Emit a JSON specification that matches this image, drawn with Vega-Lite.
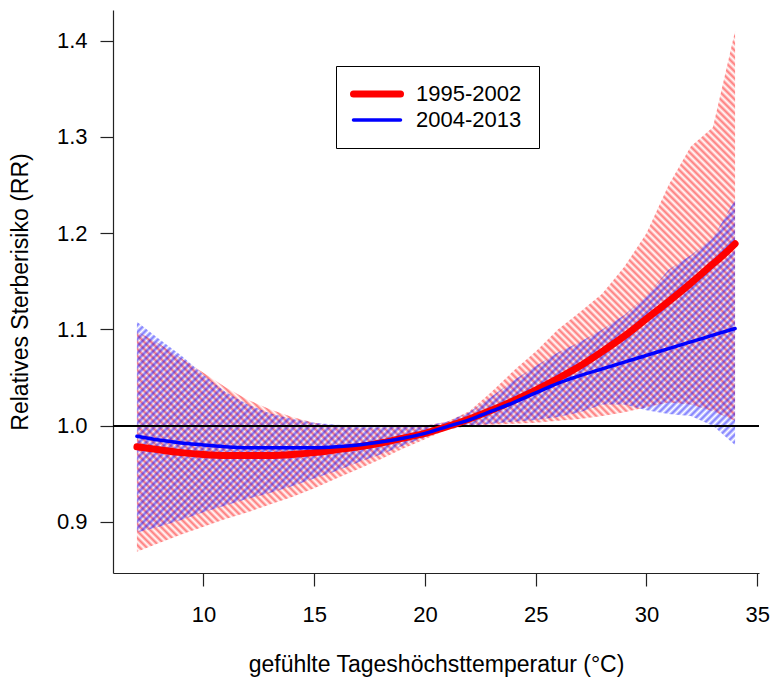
{
  "$schema": "https://vega.github.io/schema/vega-lite/v6.json",
  "width": 646,
  "height": 563,
  "autosize": "none",
  "padding": {"left": 113, "top": 10, "right": 12, "bottom": 109},
  "background": "white",
  "config": {
    "view": {"stroke": null},
    "font": "Liberation Sans",
    "axis": {
      "grid": false,
      "domainColor": "#222",
      "domainWidth": 1.2,
      "tickColor": "#222",
      "tickWidth": 1.2,
      "tickSize": 13,
      "labelColor": "black",
      "labelFont": "Liberation Sans",
      "labelFontSize": 22,
      "titleFont": "Liberation Sans",
      "titleFontSize": 23,
      "titleFontWeight": "normal",
      "titleColor": "black"
    },
    "legend": {
      "labelFont": "Liberation Sans",
      "labelFontSize": 22,
      "labelColor": "black"
    }
  },
  "data": {
    "values": [
      {"T": 7, "series": "1995-2002", "fit": 0.978, "lo": 0.869, "hi": 1.098},
      {"T": 8, "series": "1995-2002", "fit": 0.975, "lo": 0.878, "hi": 1.085},
      {"T": 9, "series": "1995-2002", "fit": 0.972, "lo": 0.887, "hi": 1.070},
      {"T": 10, "series": "1995-2002", "fit": 0.970, "lo": 0.895, "hi": 1.055},
      {"T": 11, "series": "1995-2002", "fit": 0.969, "lo": 0.903, "hi": 1.040},
      {"T": 12, "series": "1995-2002", "fit": 0.969, "lo": 0.910, "hi": 1.027},
      {"T": 13, "series": "1995-2002", "fit": 0.969, "lo": 0.918, "hi": 1.017},
      {"T": 14, "series": "1995-2002", "fit": 0.970, "lo": 0.926, "hi": 1.009},
      {"T": 15, "series": "1995-2002", "fit": 0.972, "lo": 0.935, "hi": 1.003},
      {"T": 16, "series": "1995-2002", "fit": 0.975, "lo": 0.945, "hi": 0.999},
      {"T": 17, "series": "1995-2002", "fit": 0.978, "lo": 0.955, "hi": 0.998},
      {"T": 18, "series": "1995-2002", "fit": 0.982, "lo": 0.965, "hi": 0.998},
      {"T": 19, "series": "1995-2002", "fit": 0.987, "lo": 0.976, "hi": 0.999},
      {"T": 20, "series": "1995-2002", "fit": 0.992, "lo": 0.986, "hi": 1.000},
      {"T": 21, "series": "1995-2002", "fit": 0.999, "lo": 0.996, "hi": 1.004},
      {"T": 22, "series": "1995-2002", "fit": 1.007, "lo": 1.000, "hi": 1.015},
      {"T": 23, "series": "1995-2002", "fit": 1.016, "lo": 1.001, "hi": 1.035},
      {"T": 24, "series": "1995-2002", "fit": 1.026, "lo": 1.002, "hi": 1.057},
      {"T": 25, "series": "1995-2002", "fit": 1.037, "lo": 1.003, "hi": 1.077},
      {"T": 26, "series": "1995-2002", "fit": 1.049, "lo": 1.005, "hi": 1.100},
      {"T": 27, "series": "1995-2002", "fit": 1.062, "lo": 1.007, "hi": 1.118},
      {"T": 28, "series": "1995-2002", "fit": 1.077, "lo": 1.010, "hi": 1.137},
      {"T": 29, "series": "1995-2002", "fit": 1.093, "lo": 1.014, "hi": 1.165},
      {"T": 30, "series": "1995-2002", "fit": 1.111, "lo": 1.019, "hi": 1.200},
      {"T": 31, "series": "1995-2002", "fit": 1.129, "lo": 1.024, "hi": 1.250},
      {"T": 32, "series": "1995-2002", "fit": 1.148, "lo": 1.022, "hi": 1.290},
      {"T": 33, "series": "1995-2002", "fit": 1.168, "lo": 1.015, "hi": 1.310},
      {"T": 33.5, "series": "1995-2002", "fit": 1.178, "lo": 1.010, "hi": 1.360},
      {"T": 34, "series": "1995-2002", "fit": 1.189, "lo": 1.005, "hi": 1.410},
      {"T": 7, "series": "2004-2013", "fit": 0.989, "lo": 0.889, "hi": 1.108},
      {"T": 8, "series": "2004-2013", "fit": 0.985, "lo": 0.895, "hi": 1.090},
      {"T": 9, "series": "2004-2013", "fit": 0.982, "lo": 0.902, "hi": 1.073},
      {"T": 10, "series": "2004-2013", "fit": 0.980, "lo": 0.910, "hi": 1.053},
      {"T": 11, "series": "2004-2013", "fit": 0.978, "lo": 0.917, "hi": 1.035},
      {"T": 12, "series": "2004-2013", "fit": 0.977, "lo": 0.924, "hi": 1.022},
      {"T": 13, "series": "2004-2013", "fit": 0.977, "lo": 0.930, "hi": 1.013},
      {"T": 14, "series": "2004-2013", "fit": 0.977, "lo": 0.937, "hi": 1.007},
      {"T": 15, "series": "2004-2013", "fit": 0.977, "lo": 0.945, "hi": 1.003},
      {"T": 16, "series": "2004-2013", "fit": 0.978, "lo": 0.953, "hi": 1.001},
      {"T": 17, "series": "2004-2013", "fit": 0.980, "lo": 0.962, "hi": 1.000},
      {"T": 18, "series": "2004-2013", "fit": 0.983, "lo": 0.970, "hi": 0.999},
      {"T": 19, "series": "2004-2013", "fit": 0.987, "lo": 0.979, "hi": 0.999},
      {"T": 20, "series": "2004-2013", "fit": 0.992, "lo": 0.988, "hi": 1.000},
      {"T": 21, "series": "2004-2013", "fit": 0.999, "lo": 0.996, "hi": 1.004},
      {"T": 22, "series": "2004-2013", "fit": 1.006, "lo": 1.000, "hi": 1.014},
      {"T": 23, "series": "2004-2013", "fit": 1.015, "lo": 1.002, "hi": 1.030},
      {"T": 24, "series": "2004-2013", "fit": 1.024, "lo": 1.004, "hi": 1.047},
      {"T": 25, "series": "2004-2013", "fit": 1.034, "lo": 1.006, "hi": 1.062},
      {"T": 26, "series": "2004-2013", "fit": 1.044, "lo": 1.009, "hi": 1.076},
      {"T": 27, "series": "2004-2013", "fit": 1.052, "lo": 1.014, "hi": 1.087},
      {"T": 28, "series": "2004-2013", "fit": 1.059, "lo": 1.022, "hi": 1.100},
      {"T": 29, "series": "2004-2013", "fit": 1.066, "lo": 1.022, "hi": 1.115},
      {"T": 30, "series": "2004-2013", "fit": 1.073, "lo": 1.016, "hi": 1.135},
      {"T": 31, "series": "2004-2013", "fit": 1.080, "lo": 1.012, "hi": 1.162},
      {"T": 32, "series": "2004-2013", "fit": 1.087, "lo": 1.010, "hi": 1.177},
      {"T": 33, "series": "2004-2013", "fit": 1.094, "lo": 1.000, "hi": 1.195},
      {"T": 34, "series": "2004-2013", "fit": 1.101, "lo": 0.980, "hi": 1.235}
    ]
  },
  "layer": [
    {
      "transform": [{"filter": "datum.series === '1995-2002'"}],
      "mark": {
        "type": "area",
        "interpolate": "linear",
        "fill": {
          "gradient": "linear", "x1": 0, "y1": 1, "x2": 1.10975, "y2": 0.03404,
          "stops": [
            {"offset":0,"color":"#f008"},{"offset":0.003,"color":"#f000"},{"offset":0.006,"color":"#f008"},{"offset":0.009,"color":"#f000"},{"offset":0.012,"color":"#f008"},{"offset":0.015,"color":"#f000"},{"offset":0.018,"color":"#f008"},{"offset":0.021,"color":"#f000"},{"offset":0.024,"color":"#f008"},{"offset":0.027,"color":"#f000"},
            {"offset":0.03,"color":"#f008"},{"offset":0.033,"color":"#f000"},{"offset":0.036,"color":"#f008"},{"offset":0.039,"color":"#f000"},{"offset":0.042,"color":"#f008"},{"offset":0.045,"color":"#f000"},{"offset":0.048,"color":"#f008"},{"offset":0.051,"color":"#f000"},{"offset":0.054,"color":"#f008"},{"offset":0.057,"color":"#f000"},
            {"offset":0.06,"color":"#f008"},{"offset":0.063,"color":"#f000"},{"offset":0.066,"color":"#f008"},{"offset":0.069,"color":"#f000"},{"offset":0.072,"color":"#f008"},{"offset":0.075,"color":"#f000"},{"offset":0.078,"color":"#f008"},{"offset":0.081,"color":"#f000"},{"offset":0.084,"color":"#f008"},{"offset":0.087,"color":"#f000"},
            {"offset":0.09,"color":"#f008"},{"offset":0.093,"color":"#f000"},{"offset":0.096,"color":"#f008"},{"offset":0.099,"color":"#f000"},{"offset":0.102,"color":"#f008"},{"offset":0.105,"color":"#f000"},{"offset":0.108,"color":"#f008"},{"offset":0.111,"color":"#f000"},{"offset":0.114,"color":"#f008"},{"offset":0.117,"color":"#f000"},
            {"offset":0.12,"color":"#f008"},{"offset":0.123,"color":"#f000"},{"offset":0.126,"color":"#f008"},{"offset":0.129,"color":"#f000"},{"offset":0.132,"color":"#f008"},{"offset":0.135,"color":"#f000"},{"offset":0.138,"color":"#f008"},{"offset":0.141,"color":"#f000"},{"offset":0.144,"color":"#f008"},{"offset":0.147,"color":"#f000"},
            {"offset":0.15,"color":"#f008"},{"offset":0.153,"color":"#f000"},{"offset":0.156,"color":"#f008"},{"offset":0.159,"color":"#f000"},{"offset":0.162,"color":"#f008"},{"offset":0.165,"color":"#f000"},{"offset":0.168,"color":"#f008"},{"offset":0.171,"color":"#f000"},{"offset":0.174,"color":"#f008"},{"offset":0.177,"color":"#f000"},
            {"offset":0.18,"color":"#f008"},{"offset":0.183,"color":"#f000"},{"offset":0.186,"color":"#f008"},{"offset":0.189,"color":"#f000"},{"offset":0.192,"color":"#f008"},{"offset":0.195,"color":"#f000"},{"offset":0.198,"color":"#f008"},{"offset":0.201,"color":"#f000"},{"offset":0.204,"color":"#f008"},{"offset":0.207,"color":"#f000"},
            {"offset":0.21,"color":"#f008"},{"offset":0.213,"color":"#f000"},{"offset":0.216,"color":"#f008"},{"offset":0.219,"color":"#f000"},{"offset":0.222,"color":"#f008"},{"offset":0.225,"color":"#f000"},{"offset":0.228,"color":"#f008"},{"offset":0.231,"color":"#f000"},{"offset":0.234,"color":"#f008"},{"offset":0.237,"color":"#f000"},
            {"offset":0.24,"color":"#f008"},{"offset":0.243,"color":"#f000"},{"offset":0.246,"color":"#f008"},{"offset":0.249,"color":"#f000"},{"offset":0.252,"color":"#f008"},{"offset":0.255,"color":"#f000"},{"offset":0.258,"color":"#f008"},{"offset":0.261,"color":"#f000"},{"offset":0.264,"color":"#f008"},{"offset":0.267,"color":"#f000"},
            {"offset":0.27,"color":"#f008"},{"offset":0.273,"color":"#f000"},{"offset":0.276,"color":"#f008"},{"offset":0.279,"color":"#f000"},{"offset":0.282,"color":"#f008"},{"offset":0.285,"color":"#f000"},{"offset":0.288,"color":"#f008"},{"offset":0.291,"color":"#f000"},{"offset":0.294,"color":"#f008"},{"offset":0.297,"color":"#f000"},
            {"offset":0.3,"color":"#f008"},{"offset":0.303,"color":"#f000"},{"offset":0.306,"color":"#f008"},{"offset":0.309,"color":"#f000"},{"offset":0.312,"color":"#f008"},{"offset":0.315,"color":"#f000"},{"offset":0.318,"color":"#f008"},{"offset":0.321,"color":"#f000"},{"offset":0.324,"color":"#f008"},{"offset":0.327,"color":"#f000"},
            {"offset":0.33,"color":"#f008"},{"offset":0.333,"color":"#f000"},{"offset":0.336,"color":"#f008"},{"offset":0.339,"color":"#f000"},{"offset":0.342,"color":"#f008"},{"offset":0.345,"color":"#f000"},{"offset":0.348,"color":"#f008"},{"offset":0.351,"color":"#f000"},{"offset":0.354,"color":"#f008"},{"offset":0.357,"color":"#f000"},
            {"offset":0.36,"color":"#f008"},{"offset":0.363,"color":"#f000"},{"offset":0.366,"color":"#f008"},{"offset":0.369,"color":"#f000"},{"offset":0.372,"color":"#f008"},{"offset":0.375,"color":"#f000"},{"offset":0.378,"color":"#f008"},{"offset":0.381,"color":"#f000"},{"offset":0.384,"color":"#f008"},{"offset":0.387,"color":"#f000"},
            {"offset":0.39,"color":"#f008"},{"offset":0.393,"color":"#f000"},{"offset":0.396,"color":"#f008"},{"offset":0.399,"color":"#f000"},{"offset":0.402,"color":"#f008"},{"offset":0.405,"color":"#f000"},{"offset":0.408,"color":"#f008"},{"offset":0.411,"color":"#f000"},{"offset":0.414,"color":"#f008"},{"offset":0.417,"color":"#f000"},
            {"offset":0.42,"color":"#f008"},{"offset":0.423,"color":"#f000"},{"offset":0.426,"color":"#f008"},{"offset":0.429,"color":"#f000"},{"offset":0.432,"color":"#f008"},{"offset":0.435,"color":"#f000"},{"offset":0.438,"color":"#f008"},{"offset":0.441,"color":"#f000"},{"offset":0.444,"color":"#f008"},{"offset":0.447,"color":"#f000"},
            {"offset":0.45,"color":"#f008"},{"offset":0.453,"color":"#f000"},{"offset":0.456,"color":"#f008"},{"offset":0.459,"color":"#f000"},{"offset":0.462,"color":"#f008"},{"offset":0.465,"color":"#f000"},{"offset":0.468,"color":"#f008"},{"offset":0.471,"color":"#f000"},{"offset":0.474,"color":"#f008"},{"offset":0.477,"color":"#f000"},
            {"offset":0.48,"color":"#f008"},{"offset":0.483,"color":"#f000"},{"offset":0.486,"color":"#f008"},{"offset":0.489,"color":"#f000"},{"offset":0.492,"color":"#f008"},{"offset":0.495,"color":"#f000"},{"offset":0.498,"color":"#f008"},{"offset":0.501,"color":"#f000"},{"offset":0.504,"color":"#f008"},{"offset":0.507,"color":"#f000"},
            {"offset":0.51,"color":"#f008"},{"offset":0.513,"color":"#f000"},{"offset":0.516,"color":"#f008"},{"offset":0.519,"color":"#f000"},{"offset":0.522,"color":"#f008"},{"offset":0.525,"color":"#f000"},{"offset":0.528,"color":"#f008"},{"offset":0.531,"color":"#f000"},{"offset":0.534,"color":"#f008"},{"offset":0.537,"color":"#f000"},
            {"offset":0.54,"color":"#f008"},{"offset":0.543,"color":"#f000"},{"offset":0.546,"color":"#f008"},{"offset":0.549,"color":"#f000"},{"offset":0.552,"color":"#f008"},{"offset":0.555,"color":"#f000"},{"offset":0.558,"color":"#f008"},{"offset":0.561,"color":"#f000"},{"offset":0.564,"color":"#f008"},{"offset":0.567,"color":"#f000"},
            {"offset":0.57,"color":"#f008"},{"offset":0.573,"color":"#f000"},{"offset":0.576,"color":"#f008"},{"offset":0.579,"color":"#f000"},{"offset":0.582,"color":"#f008"},{"offset":0.585,"color":"#f000"},{"offset":0.588,"color":"#f008"},{"offset":0.591,"color":"#f000"},{"offset":0.594,"color":"#f008"},{"offset":0.597,"color":"#f000"},
            {"offset":0.6,"color":"#f008"},{"offset":0.603,"color":"#f000"},{"offset":0.606,"color":"#f008"},{"offset":0.609,"color":"#f000"},{"offset":0.612,"color":"#f008"},{"offset":0.615,"color":"#f000"},{"offset":0.618,"color":"#f008"},{"offset":0.621,"color":"#f000"},{"offset":0.624,"color":"#f008"},{"offset":0.627,"color":"#f000"},
            {"offset":0.63,"color":"#f008"},{"offset":0.633,"color":"#f000"},{"offset":0.636,"color":"#f008"},{"offset":0.639,"color":"#f000"},{"offset":0.642,"color":"#f008"},{"offset":0.645,"color":"#f000"},{"offset":0.648,"color":"#f008"},{"offset":0.651,"color":"#f000"},{"offset":0.654,"color":"#f008"},{"offset":0.657,"color":"#f000"},
            {"offset":0.66,"color":"#f008"},{"offset":0.663,"color":"#f000"},{"offset":0.666,"color":"#f008"},{"offset":0.669,"color":"#f000"},{"offset":0.672,"color":"#f008"},{"offset":0.675,"color":"#f000"},{"offset":0.678,"color":"#f008"},{"offset":0.681,"color":"#f000"},{"offset":0.684,"color":"#f008"},{"offset":0.687,"color":"#f000"},
            {"offset":0.69,"color":"#f008"},{"offset":0.693,"color":"#f000"},{"offset":0.696,"color":"#f008"},{"offset":0.699,"color":"#f000"},{"offset":0.702,"color":"#f008"},{"offset":0.705,"color":"#f000"},{"offset":0.708,"color":"#f008"},{"offset":0.711,"color":"#f000"},{"offset":0.714,"color":"#f008"},{"offset":0.717,"color":"#f000"},
            {"offset":0.72,"color":"#f008"},{"offset":0.723,"color":"#f000"},{"offset":0.726,"color":"#f008"},{"offset":0.729,"color":"#f000"},{"offset":0.732,"color":"#f008"},{"offset":0.735,"color":"#f000"},{"offset":0.738,"color":"#f008"},{"offset":0.741,"color":"#f000"},{"offset":0.744,"color":"#f008"},{"offset":0.747,"color":"#f000"},
            {"offset":0.75,"color":"#f008"},{"offset":0.753,"color":"#f000"},{"offset":0.756,"color":"#f008"},{"offset":0.759,"color":"#f000"},{"offset":0.762,"color":"#f008"},{"offset":0.765,"color":"#f000"},{"offset":0.768,"color":"#f008"},{"offset":0.771,"color":"#f000"},{"offset":0.774,"color":"#f008"},{"offset":0.777,"color":"#f000"},
            {"offset":0.78,"color":"#f008"},{"offset":0.783,"color":"#f000"},{"offset":0.786,"color":"#f008"},{"offset":0.789,"color":"#f000"},{"offset":0.792,"color":"#f008"},{"offset":0.795,"color":"#f000"},{"offset":0.798,"color":"#f008"},{"offset":0.801,"color":"#f000"},{"offset":0.804,"color":"#f008"},{"offset":0.807,"color":"#f000"},
            {"offset":0.81,"color":"#f008"},{"offset":0.813,"color":"#f000"},{"offset":0.816,"color":"#f008"},{"offset":0.819,"color":"#f000"},{"offset":0.822,"color":"#f008"},{"offset":0.825,"color":"#f000"},{"offset":0.828,"color":"#f008"},{"offset":0.831,"color":"#f000"},{"offset":0.834,"color":"#f008"},{"offset":0.837,"color":"#f000"},
            {"offset":0.84,"color":"#f008"},{"offset":0.843,"color":"#f000"},{"offset":0.846,"color":"#f008"},{"offset":0.849,"color":"#f000"},{"offset":0.852,"color":"#f008"},{"offset":0.855,"color":"#f000"},{"offset":0.858,"color":"#f008"},{"offset":0.861,"color":"#f000"},{"offset":0.864,"color":"#f008"},{"offset":0.867,"color":"#f000"},
            {"offset":0.87,"color":"#f008"},{"offset":0.873,"color":"#f000"},{"offset":0.876,"color":"#f008"},{"offset":0.879,"color":"#f000"},{"offset":0.882,"color":"#f008"},{"offset":0.885,"color":"#f000"},{"offset":0.888,"color":"#f008"},{"offset":0.891,"color":"#f000"},{"offset":0.894,"color":"#f008"},{"offset":0.897,"color":"#f000"},
            {"offset":0.9,"color":"#f008"},{"offset":0.903,"color":"#f000"},{"offset":0.906,"color":"#f008"},{"offset":0.909,"color":"#f000"},{"offset":0.912,"color":"#f008"},{"offset":0.915,"color":"#f000"},{"offset":0.918,"color":"#f008"},{"offset":0.921,"color":"#f000"},{"offset":0.924,"color":"#f008"},{"offset":0.927,"color":"#f000"},
            {"offset":0.93,"color":"#f008"},{"offset":0.933,"color":"#f000"},{"offset":0.936,"color":"#f008"},{"offset":0.939,"color":"#f000"},{"offset":0.942,"color":"#f008"},{"offset":0.945,"color":"#f000"},{"offset":0.948,"color":"#f008"},{"offset":0.951,"color":"#f000"},{"offset":0.954,"color":"#f008"},{"offset":0.957,"color":"#f000"},
            {"offset":0.96,"color":"#f008"}
          ]
        }
      },
      "encoding": {
        "x": {"field": "T", "type": "quantitative"},
        "y": {"field": "lo", "type": "quantitative"},
        "y2": {"field": "hi"}
      }
    },
    {
      "transform": [{"filter": "datum.series === '2004-2013'"}],
      "mark": {
        "type": "area",
        "interpolate": "linear",
        "fill": {
          "gradient": "linear", "x1": 0, "y1": 0, "x2": 1.48904, "y2": 0.82894,
          "stops": [
            {"offset":0,"color":"#00f8"},{"offset":0.003,"color":"#00f0"},{"offset":0.006,"color":"#00f8"},{"offset":0.009,"color":"#00f0"},{"offset":0.012,"color":"#00f8"},{"offset":0.015,"color":"#00f0"},{"offset":0.018,"color":"#00f8"},{"offset":0.021,"color":"#00f0"},{"offset":0.024,"color":"#00f8"},{"offset":0.027,"color":"#00f0"},
            {"offset":0.03,"color":"#00f8"},{"offset":0.033,"color":"#00f0"},{"offset":0.036,"color":"#00f8"},{"offset":0.039,"color":"#00f0"},{"offset":0.042,"color":"#00f8"},{"offset":0.045,"color":"#00f0"},{"offset":0.048,"color":"#00f8"},{"offset":0.051,"color":"#00f0"},{"offset":0.054,"color":"#00f8"},{"offset":0.057,"color":"#00f0"},
            {"offset":0.06,"color":"#00f8"},{"offset":0.063,"color":"#00f0"},{"offset":0.066,"color":"#00f8"},{"offset":0.069,"color":"#00f0"},{"offset":0.072,"color":"#00f8"},{"offset":0.075,"color":"#00f0"},{"offset":0.078,"color":"#00f8"},{"offset":0.081,"color":"#00f0"},{"offset":0.084,"color":"#00f8"},{"offset":0.087,"color":"#00f0"},
            {"offset":0.09,"color":"#00f8"},{"offset":0.093,"color":"#00f0"},{"offset":0.096,"color":"#00f8"},{"offset":0.099,"color":"#00f0"},{"offset":0.102,"color":"#00f8"},{"offset":0.105,"color":"#00f0"},{"offset":0.108,"color":"#00f8"},{"offset":0.111,"color":"#00f0"},{"offset":0.114,"color":"#00f8"},{"offset":0.117,"color":"#00f0"},
            {"offset":0.12,"color":"#00f8"},{"offset":0.123,"color":"#00f0"},{"offset":0.126,"color":"#00f8"},{"offset":0.129,"color":"#00f0"},{"offset":0.132,"color":"#00f8"},{"offset":0.135,"color":"#00f0"},{"offset":0.138,"color":"#00f8"},{"offset":0.141,"color":"#00f0"},{"offset":0.144,"color":"#00f8"},{"offset":0.147,"color":"#00f0"},
            {"offset":0.15,"color":"#00f8"},{"offset":0.153,"color":"#00f0"},{"offset":0.156,"color":"#00f8"},{"offset":0.159,"color":"#00f0"},{"offset":0.162,"color":"#00f8"},{"offset":0.165,"color":"#00f0"},{"offset":0.168,"color":"#00f8"},{"offset":0.171,"color":"#00f0"},{"offset":0.174,"color":"#00f8"},{"offset":0.177,"color":"#00f0"},
            {"offset":0.18,"color":"#00f8"},{"offset":0.183,"color":"#00f0"},{"offset":0.186,"color":"#00f8"},{"offset":0.189,"color":"#00f0"},{"offset":0.192,"color":"#00f8"},{"offset":0.195,"color":"#00f0"},{"offset":0.198,"color":"#00f8"},{"offset":0.201,"color":"#00f0"},{"offset":0.204,"color":"#00f8"},{"offset":0.207,"color":"#00f0"},
            {"offset":0.21,"color":"#00f8"},{"offset":0.213,"color":"#00f0"},{"offset":0.216,"color":"#00f8"},{"offset":0.219,"color":"#00f0"},{"offset":0.222,"color":"#00f8"},{"offset":0.225,"color":"#00f0"},{"offset":0.228,"color":"#00f8"},{"offset":0.231,"color":"#00f0"},{"offset":0.234,"color":"#00f8"},{"offset":0.237,"color":"#00f0"},
            {"offset":0.24,"color":"#00f8"},{"offset":0.243,"color":"#00f0"},{"offset":0.246,"color":"#00f8"},{"offset":0.249,"color":"#00f0"},{"offset":0.252,"color":"#00f8"},{"offset":0.255,"color":"#00f0"},{"offset":0.258,"color":"#00f8"},{"offset":0.261,"color":"#00f0"},{"offset":0.264,"color":"#00f8"},{"offset":0.267,"color":"#00f0"},
            {"offset":0.27,"color":"#00f8"},{"offset":0.273,"color":"#00f0"},{"offset":0.276,"color":"#00f8"},{"offset":0.279,"color":"#00f0"},{"offset":0.282,"color":"#00f8"},{"offset":0.285,"color":"#00f0"},{"offset":0.288,"color":"#00f8"},{"offset":0.291,"color":"#00f0"},{"offset":0.294,"color":"#00f8"},{"offset":0.297,"color":"#00f0"},
            {"offset":0.3,"color":"#00f8"},{"offset":0.303,"color":"#00f0"},{"offset":0.306,"color":"#00f8"},{"offset":0.309,"color":"#00f0"},{"offset":0.312,"color":"#00f8"},{"offset":0.315,"color":"#00f0"},{"offset":0.318,"color":"#00f8"},{"offset":0.321,"color":"#00f0"},{"offset":0.324,"color":"#00f8"},{"offset":0.327,"color":"#00f0"},
            {"offset":0.33,"color":"#00f8"},{"offset":0.333,"color":"#00f0"},{"offset":0.336,"color":"#00f8"},{"offset":0.339,"color":"#00f0"},{"offset":0.342,"color":"#00f8"},{"offset":0.345,"color":"#00f0"},{"offset":0.348,"color":"#00f8"},{"offset":0.351,"color":"#00f0"},{"offset":0.354,"color":"#00f8"},{"offset":0.357,"color":"#00f0"},
            {"offset":0.36,"color":"#00f8"},{"offset":0.363,"color":"#00f0"},{"offset":0.366,"color":"#00f8"},{"offset":0.369,"color":"#00f0"},{"offset":0.372,"color":"#00f8"},{"offset":0.375,"color":"#00f0"},{"offset":0.378,"color":"#00f8"},{"offset":0.381,"color":"#00f0"},{"offset":0.384,"color":"#00f8"},{"offset":0.387,"color":"#00f0"},
            {"offset":0.39,"color":"#00f8"},{"offset":0.393,"color":"#00f0"},{"offset":0.396,"color":"#00f8"},{"offset":0.399,"color":"#00f0"},{"offset":0.402,"color":"#00f8"},{"offset":0.405,"color":"#00f0"},{"offset":0.408,"color":"#00f8"},{"offset":0.411,"color":"#00f0"},{"offset":0.414,"color":"#00f8"},{"offset":0.417,"color":"#00f0"},
            {"offset":0.42,"color":"#00f8"},{"offset":0.423,"color":"#00f0"},{"offset":0.426,"color":"#00f8"},{"offset":0.429,"color":"#00f0"},{"offset":0.432,"color":"#00f8"},{"offset":0.435,"color":"#00f0"},{"offset":0.438,"color":"#00f8"},{"offset":0.441,"color":"#00f0"},{"offset":0.444,"color":"#00f8"},{"offset":0.447,"color":"#00f0"},
            {"offset":0.45,"color":"#00f8"},{"offset":0.453,"color":"#00f0"},{"offset":0.456,"color":"#00f8"},{"offset":0.459,"color":"#00f0"},{"offset":0.462,"color":"#00f8"},{"offset":0.465,"color":"#00f0"},{"offset":0.468,"color":"#00f8"},{"offset":0.471,"color":"#00f0"},{"offset":0.474,"color":"#00f8"},{"offset":0.477,"color":"#00f0"},
            {"offset":0.48,"color":"#00f8"},{"offset":0.483,"color":"#00f0"},{"offset":0.486,"color":"#00f8"},{"offset":0.489,"color":"#00f0"},{"offset":0.492,"color":"#00f8"},{"offset":0.495,"color":"#00f0"},{"offset":0.498,"color":"#00f8"},{"offset":0.501,"color":"#00f0"},{"offset":0.504,"color":"#00f8"},{"offset":0.507,"color":"#00f0"},
            {"offset":0.51,"color":"#00f8"},{"offset":0.513,"color":"#00f0"},{"offset":0.516,"color":"#00f8"},{"offset":0.519,"color":"#00f0"},{"offset":0.522,"color":"#00f8"},{"offset":0.525,"color":"#00f0"},{"offset":0.528,"color":"#00f8"},{"offset":0.531,"color":"#00f0"},{"offset":0.534,"color":"#00f8"},{"offset":0.537,"color":"#00f0"},
            {"offset":0.54,"color":"#00f8"},{"offset":0.543,"color":"#00f0"},{"offset":0.546,"color":"#00f8"},{"offset":0.549,"color":"#00f0"},{"offset":0.552,"color":"#00f8"},{"offset":0.555,"color":"#00f0"},{"offset":0.558,"color":"#00f8"},{"offset":0.561,"color":"#00f0"},{"offset":0.564,"color":"#00f8"},{"offset":0.567,"color":"#00f0"},
            {"offset":0.57,"color":"#00f8"},{"offset":0.573,"color":"#00f0"},{"offset":0.576,"color":"#00f8"},{"offset":0.579,"color":"#00f0"},{"offset":0.582,"color":"#00f8"},{"offset":0.585,"color":"#00f0"},{"offset":0.588,"color":"#00f8"},{"offset":0.591,"color":"#00f0"},{"offset":0.594,"color":"#00f8"},{"offset":0.597,"color":"#00f0"},
            {"offset":0.6,"color":"#00f8"},{"offset":0.603,"color":"#00f0"},{"offset":0.606,"color":"#00f8"},{"offset":0.609,"color":"#00f0"},{"offset":0.612,"color":"#00f8"},{"offset":0.615,"color":"#00f0"},{"offset":0.618,"color":"#00f8"},{"offset":0.621,"color":"#00f0"},{"offset":0.624,"color":"#00f8"},{"offset":0.627,"color":"#00f0"},
            {"offset":0.63,"color":"#00f8"},{"offset":0.633,"color":"#00f0"},{"offset":0.636,"color":"#00f8"},{"offset":0.639,"color":"#00f0"},{"offset":0.642,"color":"#00f8"},{"offset":0.645,"color":"#00f0"},{"offset":0.648,"color":"#00f8"},{"offset":0.651,"color":"#00f0"},{"offset":0.654,"color":"#00f8"},{"offset":0.657,"color":"#00f0"},
            {"offset":0.66,"color":"#00f8"},{"offset":0.663,"color":"#00f0"},{"offset":0.666,"color":"#00f8"},{"offset":0.669,"color":"#00f0"},{"offset":0.672,"color":"#00f8"},{"offset":0.675,"color":"#00f0"},{"offset":0.678,"color":"#00f8"},{"offset":0.681,"color":"#00f0"},{"offset":0.684,"color":"#00f8"},{"offset":0.687,"color":"#00f0"},
            {"offset":0.69,"color":"#00f8"},{"offset":0.693,"color":"#00f0"},{"offset":0.696,"color":"#00f8"},{"offset":0.699,"color":"#00f0"},{"offset":0.702,"color":"#00f8"},{"offset":0.705,"color":"#00f0"},{"offset":0.708,"color":"#00f8"},{"offset":0.711,"color":"#00f0"},{"offset":0.714,"color":"#00f8"},{"offset":0.717,"color":"#00f0"},
            {"offset":0.72,"color":"#00f8"},{"offset":0.723,"color":"#00f0"},{"offset":0.726,"color":"#00f8"},{"offset":0.729,"color":"#00f0"},{"offset":0.732,"color":"#00f8"},{"offset":0.735,"color":"#00f0"},{"offset":0.738,"color":"#00f8"},{"offset":0.741,"color":"#00f0"},{"offset":0.744,"color":"#00f8"},{"offset":0.747,"color":"#00f0"},
            {"offset":0.75,"color":"#00f8"},{"offset":0.753,"color":"#00f0"},{"offset":0.756,"color":"#00f8"},{"offset":0.759,"color":"#00f0"},{"offset":0.762,"color":"#00f8"},{"offset":0.765,"color":"#00f0"},{"offset":0.768,"color":"#00f8"},{"offset":0.771,"color":"#00f0"},{"offset":0.774,"color":"#00f8"},{"offset":0.777,"color":"#00f0"},
            {"offset":0.78,"color":"#00f8"},{"offset":0.783,"color":"#00f0"},{"offset":0.786,"color":"#00f8"},{"offset":0.789,"color":"#00f0"},{"offset":0.792,"color":"#00f8"},{"offset":0.795,"color":"#00f0"},{"offset":0.798,"color":"#00f8"},{"offset":0.801,"color":"#00f0"},{"offset":0.804,"color":"#00f8"},{"offset":0.807,"color":"#00f0"}
          ]
        }
      },
      "encoding": {
        "x": {"field": "T", "type": "quantitative"},
        "y": {"field": "lo", "type": "quantitative"},
        "y2": {"field": "hi"}
      }
    },
    {
      "mark": {"type": "rule", "color": "black", "strokeWidth": 1.2},
      "encoding": {"y": {"datum": 1.0, "type": "quantitative"}}
    },
    {
      "mark": {"type": "line", "strokeCap": "round", "interpolate": "monotone"},
      "encoding": {
        "x": {
          "field": "T", "type": "quantitative",
          "scale": {"domain": [5.92, 35.08], "nice": false, "zero": false},
          "axis": {"values": [10, 15, 20, 25, 30, 35], "labelPadding": 18, "title": "gefühlte Tageshöchsttemperatur (°C)", "titleY": 98, "titleBaseline": "alphabetic"}
        },
        "y": {
          "field": "fit", "type": "quantitative",
          "scale": {"domain": [0.8469, 1.4319], "nice": false, "zero": false},
          "axis": {"values": [0.9, 1.0, 1.1, 1.2, 1.3, 1.4], "format": ".1f", "labelPadding": 13, "title": "Relatives Sterberisiko (RR)", "titleX": -86, "titleBaseline": "alphabetic"}
        },
        "color": {
          "field": "series", "type": "nominal",
          "scale": {"domain": ["1995-2002", "2004-2013"], "range": ["#ff0000", "#0000ff"]},
          "legend": {
            "orient": "none", "legendX": 223, "legendY": 56, "title": null,
            "strokeColor": "black", "padding": 17,
            "symbolType": "M-4.7,0H4.7", "symbolSize": 100, "symbolStrokeWidth": 5,
            "symbolOffset": 13, "labelOffset": 28, "rowPadding": 1, "labelFontSize": 22,
            "encode": {"symbols": {"update": {"strokeWidth": {"signal": "datum.value === '1995-2002' ? 7 : 3.5"}, "strokeCap": {"value": "round"}}}}
          }
        },
        "strokeWidth": {
          "field": "series", "type": "nominal",
          "scale": {"domain": ["1995-2002", "2004-2013"], "range": [7, 3.5], "padding": 0},
          "legend": null
        }
      }
    }
  ]
}
